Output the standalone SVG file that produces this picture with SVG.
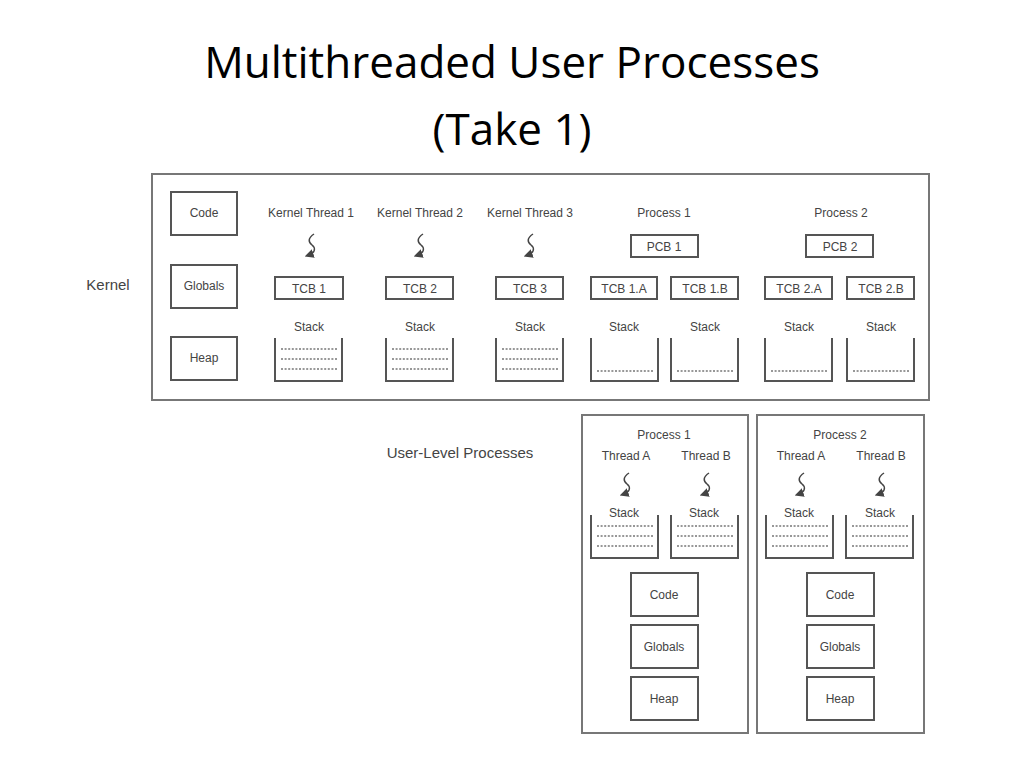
<svg xmlns="http://www.w3.org/2000/svg" width="1024" height="768" viewBox="0 0 1024 768">
<style>
.t{font-family:"Liberation Sans",Arial,sans-serif;fill:#444;font-size:12px;text-anchor:middle}
.b{fill:#fff;stroke:#555;stroke-width:2}
.frame{fill:#fff;stroke:#777;stroke-width:2}
.wall{fill:none;stroke:#555;stroke-width:2}
.dots{stroke:#777;stroke-width:1.5;stroke-dasharray:2 1.6}
.sq{fill:none;stroke:#444;stroke-width:1.5;marker-end:url(#ah)}
</style>
<defs>
<marker id="ah" markerWidth="6" markerHeight="6" refX="3" refY="3" orient="auto"><path d="M0,0 L6,3 L0,6 z" fill="#444"/></marker>
<path id="s" d="M3,0 C-3,4 -3,8 1,11 C5,14 4,19 -2,21" class="sq"/>
<g id="stk3"><path class="wall" d="M0,0 V43 H67 V0"/><line class="dots" x1="6" y1="11" x2="62" y2="11"/><line class="dots" x1="6" y1="21" x2="62" y2="21"/><line class="dots" x1="6" y1="31" x2="62" y2="31"/></g>
<g id="stk1"><path class="wall" d="M0,0 V43 H67 V0"/><line class="dots" x1="6" y1="33" x2="62" y2="33"/></g>
</defs>
<text x="512" y="78" style="font-family:'Open Sans',sans-serif;font-size:44px;fill:#000;text-anchor:middle">Multithreaded User Processes</text>
<text x="512" y="145" style="font-family:'Open Sans',sans-serif;font-size:44px;fill:#000;text-anchor:middle">(Take 1)</text>

<g id="kernel">
<rect class="frame" x="152" y="174" width="777" height="226"/>
<text class="t" x="108" y="290" style="font-size:15px">Kernel</text>
<g id="k-code"><rect class="b" x="171" y="192" width="66" height="43"/><text class="t" x="204" y="217">Code</text></g>
<g id="k-globals"><rect class="b" x="171" y="265" width="66" height="43"/><text class="t" x="204" y="290">Globals</text></g>
<g id="k-heap"><rect class="b" x="171" y="337" width="66" height="43"/><text class="t" x="204" y="362">Heap</text></g>
<text class="t" x="311" y="217">Kernel Thread 1</text>
<text class="t" x="420" y="217">Kernel Thread 2</text>
<text class="t" x="530" y="217">Kernel Thread 3</text>
<text class="t" x="664" y="217">Process 1</text>
<text class="t" x="841" y="217">Process 2</text>
<use href="#s" x="311" y="234"/><use href="#s" x="420" y="234"/><use href="#s" x="530" y="234"/>
<g id="pcb1"><rect class="b" x="631" y="235" width="67" height="22"/><text class="t" x="664" y="251">PCB 1</text></g>
<g id="pcb2"><rect class="b" x="806" y="235" width="67" height="22"/><text class="t" x="840" y="251">PCB 2</text></g>
<g id="tcb1"><rect class="b" x="275" y="277" width="68" height="22"/><text class="t" x="309" y="293">TCB 1</text></g>
<g id="tcb2"><rect class="b" x="386" y="277" width="67" height="22"/><text class="t" x="420" y="293">TCB 2</text></g>
<g id="tcb3"><rect class="b" x="496" y="277" width="67" height="22"/><text class="t" x="530" y="293">TCB 3</text></g>
<g id="tcb1a"><rect class="b" x="591" y="277" width="66" height="22"/><text class="t" x="624" y="293">TCB 1.A</text></g>
<g id="tcb1b"><rect class="b" x="671" y="277" width="67" height="22"/><text class="t" x="705" y="293">TCB 1.B</text></g>
<g id="tcb2a"><rect class="b" x="765" y="277" width="67" height="22"/><text class="t" x="799" y="293">TCB 2.A</text></g>
<g id="tcb2b"><rect class="b" x="847" y="277" width="67" height="22"/><text class="t" x="881" y="293">TCB 2.B</text></g>
<g class="t"><text x="309" y="331">Stack</text><text x="420" y="331">Stack</text><text x="530" y="331">Stack</text><text x="624" y="331">Stack</text><text x="705" y="331">Stack</text><text x="799" y="331">Stack</text><text x="881" y="331">Stack</text></g>
<use href="#stk3" x="275" y="338"/><use href="#stk3" x="386" y="338"/><use href="#stk3" x="496" y="338"/>
<use href="#stk1" x="591" y="338"/><use href="#stk1" x="671" y="338"/><use href="#stk1" x="765" y="338"/><use href="#stk1" x="847" y="338"/>
</g>

<text class="t" x="460" y="458" style="font-size:15px">User-Level Processes</text>

<g id="uproc1">
<rect class="frame" x="582" y="415" width="166" height="318"/>
<text class="t" x="664" y="439">Process 1</text>
<text class="t" x="626" y="460">Thread A</text><text class="t" x="706" y="460">Thread B</text>
<use href="#s" x="626" y="473"/><use href="#s" x="706" y="473"/>
<text class="t" x="624" y="517">Stack</text><text class="t" x="704" y="517">Stack</text>
<use href="#stk3" x="591" y="515"/><use href="#stk3" x="671" y="515"/>
<g id="u1-code"><rect class="b" x="631" y="573" width="67" height="43"/><text class="t" x="664" y="599">Code</text></g>
<g id="u1-globals"><rect class="b" x="631" y="625" width="67" height="43"/><text class="t" x="664" y="651">Globals</text></g>
<g id="u1-heap"><rect class="b" x="631" y="677" width="67" height="43"/><text class="t" x="664" y="703">Heap</text></g>
</g>

<g id="uproc2">
<rect class="frame" x="757" y="415" width="167" height="318"/>
<text class="t" x="840" y="439">Process 2</text>
<text class="t" x="801" y="460">Thread A</text><text class="t" x="881" y="460">Thread B</text>
<use href="#s" x="801" y="473"/><use href="#s" x="881" y="473"/>
<text class="t" x="799" y="517">Stack</text><text class="t" x="880" y="517">Stack</text>
<use href="#stk3" x="766" y="515"/><use href="#stk3" x="846" y="515"/>
<g id="u2-code"><rect class="b" x="807" y="573" width="67" height="43"/><text class="t" x="840" y="599">Code</text></g>
<g id="u2-globals"><rect class="b" x="807" y="625" width="67" height="43"/><text class="t" x="840" y="651">Globals</text></g>
<g id="u2-heap"><rect class="b" x="807" y="677" width="67" height="43"/><text class="t" x="840" y="703">Heap</text></g>
</g>
<g id="connectors"/>
</svg>
